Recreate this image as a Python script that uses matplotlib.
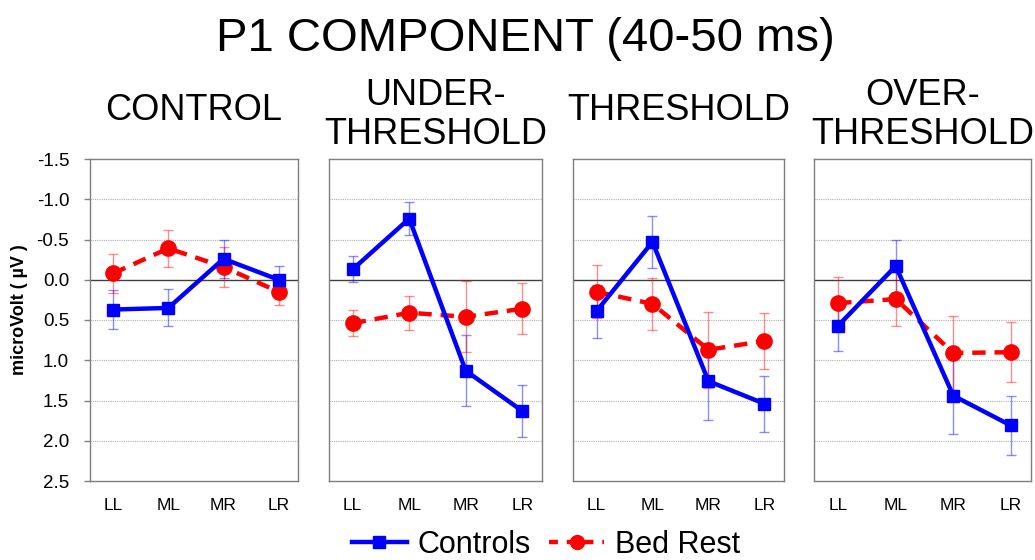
import matplotlib
matplotlib.use("Agg")
import matplotlib.pyplot as plt
from matplotlib.lines import Line2D
import numpy as np

plt.rcParams['font.family'] = ['Liberation Sans', 'DejaVu Sans']

categories = ["LL", "ML", "MR", "LR"]
panel_titles = ["CONTROL", "UNDER-\nTHRESHOLD", "THRESHOLD", "OVER-\nTHRESHOLD"]

controls_mean = [
    [0.37, 0.35, -0.26, 0.00],
    [-0.13, -0.76, 1.13, 1.63],
    [0.39, -0.47, 1.26, 1.54],
    [0.57, -0.17, 1.44, 1.81],
]
controls_err = [
    [0.24, 0.23, 0.24, 0.17],
    [0.16, 0.21, 0.44, 0.32],
    [0.33, 0.32, 0.48, 0.35],
    [0.32, 0.33, 0.47, 0.37],
]
bedrest_mean = [
    [-0.08, -0.39, -0.16, 0.15],
    [0.54, 0.41, 0.46, 0.36],
    [0.15, 0.30, 0.87, 0.76],
    [0.29, 0.24, 0.91, 0.90],
]
bedrest_err = [
    [0.24, 0.23, 0.25, 0.16],
    [0.16, 0.21, 0.44, 0.32],
    [0.33, 0.32, 0.47, 0.35],
    [0.32, 0.34, 0.46, 0.37],
]
yticks = [-1.5, -1.0, -0.5, 0.0, 0.5, 1.0, 1.5, 2.0, 2.5]

W, H = 1035, 560
fig = plt.figure(figsize=(W / 100, H / 100), dpi=100)

boxes = [(90, 298), (329, 542), (573, 784), (814, 1031)]
top, bot = 159, 481
title_y = [110, 115, 110, 115]

x = np.arange(len(categories))
for i, (x0, x1) in enumerate(boxes):
    ax = fig.add_axes([x0 / W, 1 - bot / H, (x1 - x0) / W, (bot - top) / H])
    ax.set_ylim(2.5, -1.5)
    ax.set_xlim(-0.42, 3.35)
    for yv in yticks:
        if yv == 0.0:
            ax.axhline(yv, color='#404040', lw=1.0, zorder=1)
        elif yv not in (-1.5, 2.5):
            ax.axhline(yv, color='#b0b0b0', lw=0.8, ls=(0, (1, 1)), zorder=1)
    ax.errorbar(x, controls_mean[i], yerr=controls_err[i], fmt='none',
                ecolor=(0, 0, 1, 0.45), elinewidth=1.0, capsize=3.5, capthick=1.0, zorder=2)
    ax.errorbar(x, bedrest_mean[i], yerr=bedrest_err[i], fmt='none',
                ecolor=(1, 0, 0, 0.45), elinewidth=1.0, capsize=3.5, capthick=1.0, zorder=2)
    ax.plot(x, controls_mean[i], color='#0000ff', lw=3.2, marker='s', ms=9,
            zorder=4)
    ax.plot(x, bedrest_mean[i], color='#ff0000', lw=3.2, ls=(0, (3, 2)), marker='o', ms=11,
            zorder=3)
    ax.set_xticks(x)
    ax.set_xticklabels(categories, fontsize=12.5)
    ax.set_yticks(yticks)
    ax.tick_params(axis='x', length=0, pad=12)
    if i == 0:
        ax.set_yticklabels([f"{v:.1f}" for v in yticks], fontsize=13.5)
        ax.tick_params(axis='y', length=4, width=1, color='#7f7f7f', pad=11)
    else:
        ax.set_yticklabels([])
        ax.tick_params(axis='y', length=0)
    for s in ax.spines.values():
        s.set_color('#7f7f7f')
        s.set_linewidth(1.0)
    fig.text((x0 + x1) / 2 / W, 1 - title_y[i] / H, panel_titles[i], ha='center', va='center',
             fontsize=26, linespacing=1.15)

fig.text(525 / W, 1 - 39 / H, "P1 COMPONENT (40-50 ms)", ha='center', va='center', fontsize=34)
fig.text(20 / W, 1 - 310 / H, "microVolt ( \u00b5V )", rotation=90, ha='center', va='center',
         fontsize=13, fontweight='bold')

handles = [
    Line2D([], [], color='#0000ff', lw=3.2, marker='s', ms=8),
    Line2D([], [], color='#ff0000', lw=3.2, ls=(0, (2, 2)), marker='o', ms=10),
]
fig.legend(handles, ["Controls", "Bed Rest"], loc='center', bbox_to_anchor=(546 / W, 1 - 545 / H),
           ncol=2, frameon=False, fontsize=22, handlelength=1.8, columnspacing=0.6,
           handletextpad=0.35, borderpad=0)

fig.savefig("out.png", dpi=100)
